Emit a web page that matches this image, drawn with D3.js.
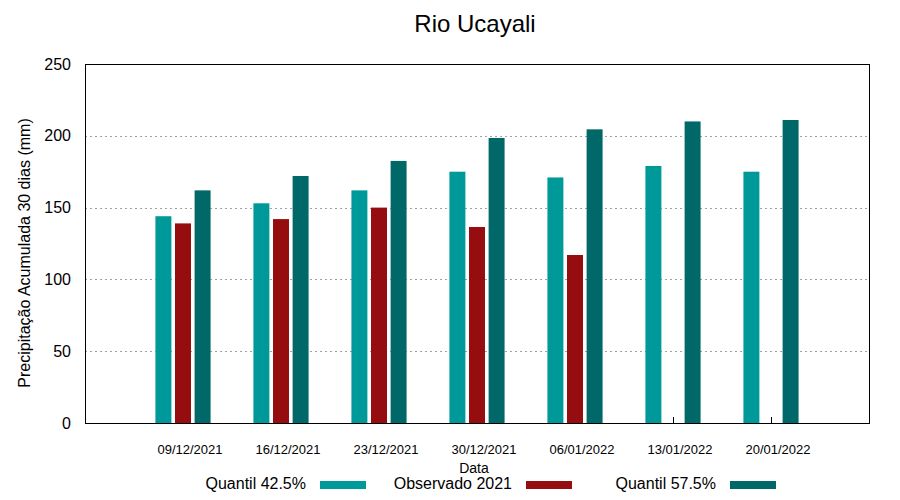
<!DOCTYPE html>
<html><head><meta charset="utf-8">
<script src="https://d3js.org/d3.v7.min.js"></script>
<style>body{margin:0;background:#fff}svg{display:block}text{font-family:"Liberation Sans",Arial,sans-serif}</style>
</head><body><svg id="c" width="900" height="500"></svg>
<script>
const dates = ["09/12/2021","16/12/2021","23/12/2021","30/12/2021","06/01/2022","13/01/2022","20/01/2022"];
const q425 = [144, 153, 162, 175, 171, 179, 175];
const obs2021 = [139, 142, 150, 136.5, 117, null, null];
const q575 = [162, 172, 182.5, 198.5, 204.5, 210, 211];
const yTicks = [0, 50, 100, 150, 200, 250];
const seriesNames = ["Quantil 42.5%", "Observado 2021", "Quantil 57.5%"];
const colors = ["#009999", "#960d0f", "#006868"];

const svg = d3.select("#c");
const L = 85, R = 869, T = 64, B = 423;
const x = d3.scaleLinear().domain([0, dates.length + 1]).range([L, R]);
const y = d3.scaleLinear().domain([0, 250]).range([B, T]);

// title
svg.append("text").attr("x", 475).attr("y", 32).attr("text-anchor", "middle")
  .attr("font-size", 24).text("Rio Ucayali");

// grid
svg.append("g").selectAll("line").data(yTicks.filter(d => d > 0 && d < 250)).join("line")
  .attr("x1", L).attr("x2", R).attr("y1", d => Math.round(y(d)) + 0.5).attr("y2", d => Math.round(y(d)) + 0.5)
  .attr("stroke", "#a0a0a0").attr("stroke-width", 1).attr("stroke-dasharray", "2,3");

// y tick labels
svg.append("g").selectAll("text").data(yTicks).join("text")
  .attr("x", 71).attr("y", d => y(d)).attr("dy", "0.35em").attr("text-anchor", "end")
  .attr("font-size", 16).text(d => d);

// x ticks (at group centres, inward)
svg.append("g").selectAll("line").data(dates).join("line")
  .attr("x1", (d, i) => Math.round(x(i + 1)) + 0.5).attr("x2", (d, i) => Math.round(x(i + 1)) + 0.5)
  .attr("y1", B).attr("y2", B - 6).attr("stroke", "#000");

// bars
const all = [q425, obs2021, q575];
const off = [-0.2, 0, 0.2], bw = 0.163;
all.forEach((s, k) => {
  svg.append("g").selectAll("rect").data(s.map((v, i) => ({v, i})).filter(d => d.v != null)).join("rect")
    .attr("x", d => x(d.i + 1 + off[k] - bw / 2))
    .attr("width", x(bw) - x(0))
    .attr("y", d => y(d.v))
    .attr("height", d => y(0) - y(d.v))
    .attr("fill", colors[k]);
});

// border
svg.append("rect").attr("x", L + 0.5).attr("y", T + 0.5).attr("width", R - L).attr("height", B - T)
  .attr("fill", "none").attr("stroke", "#000").attr("stroke-width", 1);

// x labels
svg.append("g").selectAll("text").data(dates).join("text")
  .attr("x", (d, i) => x(i + 1) + 7).attr("y", 454).attr("text-anchor", "middle")
  .attr("font-size", 13).text(d => d);

svg.append("text").attr("x", 474).attr("y", 473).attr("text-anchor", "middle")
  .attr("font-size", 14).text("Data");

// y label
svg.append("text").attr("transform", "translate(30,253) rotate(-90)").attr("text-anchor", "middle")
  .attr("font-size", 16).text("Precipitação Acumulada 30 dias (mm)");

// legend
const legEnd = [306, 512, 716];
seriesNames.forEach((n, k) => {
  svg.append("text").attr("x", legEnd[k]).attr("y", 489).attr("text-anchor", "end")
    .attr("font-size", 16).text(n);
  svg.append("rect").attr("x", legEnd[k] + 14).attr("y", 481).attr("width", 46).attr("height", 8)
    .attr("fill", colors[k]);
});
</script></body></html>
